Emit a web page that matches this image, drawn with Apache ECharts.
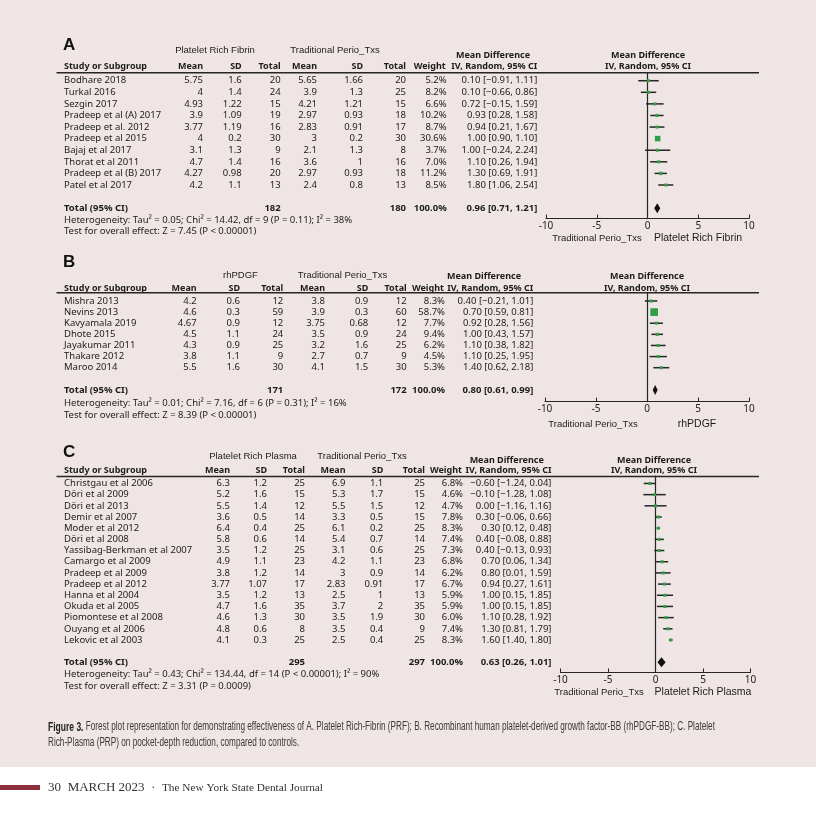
<!DOCTYPE html>
<html><head><meta charset="utf-8">
<script src="https://cdn.jsdelivr.net/npm/echarts/dist/echarts.min.js"></script>
<style>html,body{margin:0;padding:0;background:#fff}#c{width:816px;height:820px}</style>
</head><body><div id="c"></div>
<script>
// ---------- Panel A: Platelet Rich Fibrin ----------
const studiesA = ["Bodhare 2018","Turkal 2016","Sezgin 2017","Pradeep et al (A) 2017","Pradeep et al. 2012","Pradeep et al 2015","Bajaj et al 2017","Thorat et al 2011","Pradeep et al (B) 2017","Patel et al 2017"];
const expMeanA = [5.75,4,4.93,3.9,3.77,4,3.1,4.7,4.27,4.2];
const expSdA   = [1.6,1.4,1.22,1.09,1.19,0.2,1.3,1.4,0.98,1.1];
const expNA    = [20,24,15,19,16,30,9,16,20,13];
const ctlMeanA = [5.65,3.9,4.21,2.97,2.83,3,2.1,3.6,2.97,2.4];
const ctlSdA   = [1.66,1.3,1.21,0.93,0.91,0.2,1.3,1,0.93,0.8];
const ctlNA    = [20,25,15,18,17,30,8,16,18,13];
const weightA  = [5.2,8.2,6.6,10.2,8.7,30.6,3.7,7.0,11.2,8.5];
const mdA      = [0.10,0.10,0.72,0.93,0.94,1.00,1.00,1.10,1.30,1.80];
const loA      = [-0.91,-0.66,-0.15,0.28,0.21,0.90,-0.24,0.26,0.69,1.06];
const hiA      = [1.11,0.86,1.59,1.58,1.67,1.10,2.24,1.94,1.91,2.54];
const totalA   = {eN:182, cN:180, md:0.96, lo:0.71, hi:1.21};
const hetA  = "Heterogeneity: Tau² = 0.05; Chi² = 14.42, df = 9 (P = 0.11); I² = 38%";
const testA = "Test for overall effect: Z = 7.45 (P < 0.00001)";

// ---------- Panel B: rhPDGF ----------
const studiesB = ["Mishra 2013","Nevins 2013","Kavyamala 2019","Dhote 2015","Jayakumar 2011","Thakare 2012","Maroo 2014"];
const expMeanB = [4.2,4.6,4.67,4.5,4.3,3.8,5.5];
const expSdB   = [0.6,0.3,0.9,1.1,0.9,1.1,1.6];
const expNB    = [12,59,12,24,25,9,30];
const ctlMeanB = [3.8,3.9,3.75,3.5,3.2,2.7,4.1];
const ctlSdB   = [0.9,0.3,0.68,0.9,1.6,0.7,1.5];
const ctlNB    = [12,60,12,24,25,9,30];
const weightB  = [8.3,58.7,7.7,9.4,6.2,4.5,5.3];
const mdB      = [0.40,0.70,0.92,1.00,1.10,1.10,1.40];
const loB      = [-0.21,0.59,0.28,0.43,0.38,0.25,0.62];
const hiB      = [1.01,0.81,1.56,1.57,1.82,1.95,2.18];
const totalB   = {eN:171, cN:172, md:0.80, lo:0.61, hi:0.99};
const hetB  = "Heterogeneity: Tau² = 0.01; Chi² = 7.16, df = 6 (P = 0.31); I² = 16%";
const testB = "Test for overall effect: Z = 8.39 (P < 0.00001)";

// ---------- Panel C: Platelet Rich Plasma ----------
const studiesC = ["Christgau et al 2006","Döri et al 2009","Döri et al 2013","Demir et al 2007","Moder et al 2012","Döri et al 2008","Yassibag-Berkman et al 2007","Camargo et al 2009","Pradeep et al 2009","Pradeep et al 2012","Hanna et al 2004","Okuda et al 2005","Piomontese et al 2008","Ouyang et al 2006","Lekovic et al 2003"];
const expMeanC = [6.3,5.2,5.5,3.6,6.4,5.8,3.5,4.9,3.8,3.77,3.5,4.7,4.6,4.8,4.1];
const expSdC   = [1.2,1.6,1.4,0.5,0.4,0.6,1.2,1.1,1.2,1.07,1.2,1.6,1.3,0.6,0.3];
const expNC    = [25,15,12,14,25,14,25,23,14,17,13,35,30,8,25];
const ctlMeanC = [6.9,5.3,5.5,3.3,6.1,5.4,3.1,4.2,3,2.83,2.5,3.7,3.5,3.5,2.5];
const ctlSdC   = [1.1,1.7,1.5,0.5,0.2,0.7,0.6,1.1,0.9,0.91,1,2,1.9,0.4,0.4];
const ctlNC    = [25,15,12,15,25,14,25,23,14,17,13,35,30,9,25];
const weightC  = [6.8,4.6,4.7,7.8,8.3,7.4,7.3,6.8,6.2,6.7,5.9,5.9,6.0,7.4,8.3];
const mdC      = [-0.60,-0.10,0.00,0.30,0.30,0.40,0.40,0.70,0.80,0.94,1.00,1.00,1.10,1.30,1.60];
const loC      = [-1.24,-1.28,-1.16,-0.06,0.12,-0.08,-0.13,0.06,0.01,0.27,0.15,0.15,0.28,0.81,1.40];
const hiC      = [0.04,1.08,1.16,0.66,0.48,0.88,0.93,1.34,1.59,1.61,1.85,1.85,1.92,1.79,1.80];
const totalC   = {eN:295, cN:297, md:0.63, lo:0.26, hi:1.01};
const hetC  = "Heterogeneity: Tau² = 0.43; Chi² = 134.44, df = 14 (P < 0.00001); I² = 90%";
const testC = "Test for overall effect: Z = 3.31 (P = 0.0009)";

// Axis tick labels
const axisMin = -10, axisMax = 10, axisStep = 5;

// ---------- styling / layout ----------
const BG = '#eee5e4', TXT = '#1c1c1c', LINE = '#262626', GREEN = '#2f9e47';
const FS = 9.5, FF = '"Noto Sans", sans-serif', HF = '"Liberation Sans", Arial, sans-serif';

const panels = [
  {letter:'A', letterY:45, studies:studiesA, eM:expMeanA, eS:expSdA, eN:expNA, cM:ctlMeanA, cS:ctlSdA, cN:ctlNA, w:weightA, md:mdA, lo:loA, hi:hiA, tot:totalA, het:hetA, test:testA,
   grid:{left:546, width:203, top:72.6, height:146}, yMin:-0.7, yMax:11.9, totIdx:11,
   cols:{eM:203, eS:241.7, eN:280.7, cM:317, cS:363, cN:406, w:446.7, ci:537.3},
   headY:66.7, lineY:72.7, g1:'Platelet Rich Fibrin', g1x:215, g2x:335, gY:50, mdX:493, mdY:55, fX:648,
   hetY:220, testY:231.7, atY:238, atL:597, atR:698, rightLabel:'Platelet Rich Fibrin'},
  {letter:'B', letterY:262, studies:studiesB, eM:expMeanB, eS:expSdB, eN:expNB, cM:ctlMeanB, cS:ctlSdB, cN:ctlNB, w:weightB, md:mdB, lo:loB, hi:hiB, tot:totalB, het:hetB, test:testB,
   grid:{left:545, width:204, top:293.2, height:108.4}, yMin:-0.7, yMax:9.05, totIdx:8,
   cols:{eM:196.7, eS:240, eN:283.3, cM:325, cS:368.3, cN:406.7, w:445, ci:533.3},
   headY:288.3, lineY:292.7, g1:'rhPDGF', g1x:240.5, g2x:342.5, gY:275, mdX:484, mdY:276.7, fX:647,
   hetY:403.5, testY:415, atY:424, atL:593, atR:697, rightLabel:'rhPDGF'},
  {letter:'C', letterY:452, studies:studiesC, eM:expMeanC, eS:expSdC, eN:expNC, cM:ctlMeanC, cS:ctlSdC, cN:ctlNC, w:weightC, md:mdC, lo:loC, hi:hiC, tot:totalC, het:hetC, test:testC,
   grid:{left:560.5, width:190, top:476.2, height:196.2}, yMin:-0.65, yMax:16.9, totIdx:16,
   cols:{eM:230, eS:267, eN:305, cM:345.5, cS:383.3, cN:425, w:463, ci:551.5},
   headY:470.5, lineY:476.5, g1:'Platelet Rich Plasma', g1x:253, g2x:362, gY:456, mdX:506.7, mdY:460, fX:654,
   hetY:674.3, testY:686, atY:692.5, atL:599, atR:703, rightLabel:'Platelet Rich Plasma'}
];

const fmt = v => (v < 0 ? '−' : '') + Math.abs(v).toFixed(2);
const ciText = (m, l, h) => fmt(m) + ' [' + fmt(l) + ', ' + fmt(h) + ']';

function makeRender(p) {
  return function (params, api) {
    const i = params.dataIndex;
    const row = api.value(0), m = api.value(1), l = api.value(2), h = api.value(3);
    const y = api.coord([0, row])[1];
    const xm = api.coord([m, row])[0], xl = api.coord([l, row])[0], xh = api.coord([h, row])[0];
    const isTot = i === p.studies.length;
    const font = (isTot ? 'bold ' : '') + FS + 'px ' + FF;
    const t = (x, s, align) => ({type:'text', style:{x:x, y:y, text:String(s), textAlign:align, textVerticalAlign:'middle', font:font, fill:TXT}});
    const c = p.cols;
    const kids = [];
    if (!isTot) {
      kids.push(t(64, p.studies[i], 'left'), t(c.eM, p.eM[i], 'right'), t(c.eS, p.eS[i], 'right'), t(c.eN, p.eN[i], 'right'),
        t(c.cM, p.cM[i], 'right'), t(c.cS, p.cS[i], 'right'), t(c.cN, p.cN[i], 'right'),
        t(c.w, p.w[i].toFixed(1) + '%', 'right'), t(c.ci, ciText(m, l, h), 'right'));
      kids.push({type:'line', shape:{x1:xl, y1:y, x2:xh, y2:y}, style:{stroke:LINE, lineWidth:1.5}});
      const s = Math.max(3, Math.sqrt(p.w[i]));
      kids.push({type:'rect', shape:{x:xm - s/2, y:y - s/2, width:s, height:s}, style:{fill:GREEN}});
    } else {
      kids.push(t(64, 'Total (95% CI)', 'left'), t(c.eN, p.tot.eN, 'right'), t(c.cN, p.tot.cN, 'right'),
        t(c.w, '100.0%', 'right'), t(c.ci, ciText(m, l, h), 'right'));
      const hh = 5;
      kids.push({type:'polygon', shape:{points:[[xl - 0.5, y], [xm, y - hh], [xh + 0.5, y], [xm, y + hh]]}, style:{fill:'#111'}});
    }
    return {type:'group', children:kids};
  };
}

const grids = [], xAxes = [], yAxes = [], series = [], graphics = [];
graphics.push({type:'rect', shape:{x:0, y:767, width:816, height:53}, style:{fill:'#fff'}, z:-1});

panels.forEach((p, k) => {
  grids.push(Object.assign({containLabel:false}, p.grid));
  xAxes.push({gridIndex:k, type:'value', min:axisMin, max:axisMax, interval:axisStep,
    axisLine:{onZero:false, lineStyle:{color:LINE, width:1.2}},
    axisTick:{inside:true, length:4, lineStyle:{color:LINE}},
    axisLabel:{fontSize:10, color:TXT, margin:3, fontFamily:'Noto Sans'}, splitLine:{show:false}});
  yAxes.push({gridIndex:k, type:'value', inverse:true, min:p.yMin, max:p.yMax,
    axisLine:{show:true, onZero:true, lineStyle:{color:LINE, width:1.2}},
    axisTick:{show:false}, axisLabel:{show:false}, splitLine:{show:false}});
  const data = p.studies.map((s, i) => [i, p.md[i], p.lo[i], p.hi[i]]);
  data.push([p.totIdx, p.tot.md, p.tot.lo, p.tot.hi]);
  series.push({type:'custom', xAxisIndex:k, yAxisIndex:k, data:data, encode:{x:[1,2,3], y:0},
    renderItem:makeRender(p), clip:false, silent:true});

  const txt = (x, y, s, opt) => graphics.push({type:'text', x:x, y:y, silent:true,
    style:Object.assign({text:s, textAlign:'left', textVerticalAlign:'middle', font:FS + 'px ' + FF, fill:TXT}, opt || {})});
  const bold = 'bold 9px ' + FF;
  txt(63, p.letterY, p.letter, {font:'bold 17px ' + HF, fill:'#111'});
  txt(p.g1x, p.gY, p.g1, {textAlign:'center', font:'9.5px ' + HF});
  txt(p.g2x, p.gY, 'Traditional Perio_Txs', {textAlign:'center', font:'9.5px ' + HF});
  txt(p.mdX, p.mdY, 'Mean Difference', {textAlign:'center', font:bold});
  txt(p.fX, p.mdY, 'Mean Difference', {textAlign:'center', font:bold});
  txt(p.fX, p.headY, 'IV, Random, 95% CI', {textAlign:'center', font:bold});
  txt(64, p.headY, 'Study or Subgroup', {font:bold});
  const c = p.cols;
  [['Mean', c.eM], ['SD', c.eS], ['Total', c.eN], ['Mean', c.cM], ['SD', c.cS], ['Total', c.cN], ['Weight', c.w - 1], ['IV, Random, 95% CI', c.ci]]
    .forEach(([s, x]) => txt(x, p.headY, s, {textAlign:'right', font:bold}));
  graphics.push({type:'line', silent:true, shape:{x1:56.5, y1:p.lineY, x2:759, y2:p.lineY}, style:{stroke:LINE, lineWidth:1.4}});
  txt(64, p.hetY, p.het);
  txt(64, p.testY, p.test);
  txt(p.atL, p.atY, 'Traditional Perio_Txs', {textAlign:'center', font:'9.5px ' + HF});
  txt(p.atR, p.atY, p.rightLabel, {textAlign:'center', font:'10.5px ' + HF});
});

// caption
const cap1 = '{b|Figure 3.} Forest plot representation for demonstrating effectiveness of A. Platelet Rich-Fibrin (PRF); B. Recombinant human platelet-derived growth factor-BB (rhPDGF-BB); C. Platelet';
const cap2 = 'Rich-Plasma (PRP) on pocket-depth reduction, compared to controls.';
const capFont = '12.5px "Liberation Sans", Arial, sans-serif';
graphics.push({type:'text', x:48, y:727, scaleX:0.655, silent:true,
  style:{text:cap1, font:capFont, fill:'#3a3a3a', textVerticalAlign:'middle',
    rich:{b:{font:'bold 13px "Liberation Sans", Arial, sans-serif', fill:'#222'}}}});
graphics.push({type:'text', x:48, y:743, scaleX:0.655, silent:true,
  style:{text:cap2, font:capFont, fill:'#3a3a3a', textVerticalAlign:'middle'}});

// footer
graphics.push({type:'rect', silent:true, shape:{x:0, y:785, width:40, height:5}, style:{fill:'#8a2f3b'}});
graphics.push({type:'text', x:48, y:788, silent:true,
  style:{text:'{a|30}  {a|MARCH 2023}  {c|·}  {d|The New York State Dental Journal}', textVerticalAlign:'middle',
    rich:{a:{font:'13px "Liberation Serif", "DejaVu Serif", serif', fill:'#333'},
          c:{font:'12px "Liberation Serif", serif', fill:'#333'},
          d:{font:'11.3px "Liberation Serif", "DejaVu Serif", serif', fill:'#333'}}}});

const chart = echarts.init(document.getElementById('c'));
chart.setOption({
  animation:false, backgroundColor:BG,
  grid:grids, xAxis:xAxes, yAxis:yAxes, series:series, graphic:graphics
});
</script></body></html>
